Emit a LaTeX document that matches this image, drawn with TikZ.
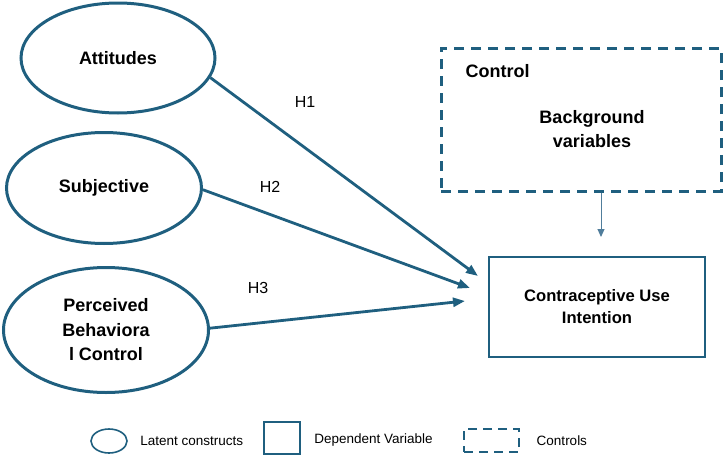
\documentclass[tikz,border=0pt]{standalone}
\usepackage{fontspec}
\setmainfont{Liberation Sans}
\usepackage{tikz}
\usetikzlibrary{shapes.geometric, arrows.meta, positioning, calc}

\definecolor{pathblue}{RGB}{31,95,127}
\definecolor{thinblue}{RGB}{80,125,155}

\begin{document}
\begin{tikzpicture}[
        x=1pt, y=-1pt,
        construct/.style={
            ellipse,
            draw=pathblue,
            line width=3pt,
            inner sep=0pt,
            align=center,
            font=\fontsize{18}{24.5}\selectfont\bfseries
        },
        depbox/.style={
            rectangle,
            draw=pathblue,
            line width=2.2pt,
            inner sep=0pt,
            align=center,
            font=\fontsize{16.6}{22}\selectfont\bfseries
        },
        ctrlbox/.style={
            rectangle,
            draw=pathblue,
            line width=3pt,
            dash pattern=on 10pt off 7pt,
            inner sep=0pt
        },
        boldtext/.style={
            align=center,
            font=\fontsize{18}{24}\selectfont\bfseries
        },
        hyplabel/.style={font=\fontsize{16}{19}\selectfont},
        legtext/.style={anchor=west, font=\fontsize{13.5}{16}\selectfont},
        hyparrow/.style={
            draw=pathblue,
            line width=2.8pt,
            -{Triangle[length=12pt,width=9pt]}
        }
    ]
    \useasboundingbox (0,0) rectangle (726,458);

    % Latent constructs
    \node[construct, minimum width=194pt, minimum height=110pt] (att) at (118,58) {Attitudes};
    \node[construct, minimum width=195pt, minimum height=111pt] (subj) at (104,188) {Subjective};
    \node[construct, minimum width=205pt, minimum height=125pt] (pbc) at (106,330)
        {Perceived\\Behaviora\\l Control};

    % Control box
    \node[ctrlbox, minimum width=280pt, minimum height=143pt] (ctrl) at (581,119.5) {};
    \node[boldtext, anchor=west] (ctrltitle) at (462,71) {Control};
    \node[boldtext] (background) at (592,129) {Background\\variables};

    % Dependent variable
    \node[depbox, minimum width=216pt, minimum height=100pt] (intent) at (597,307)
        {Contraceptive Use\\Intention};

    % Arrow tips stop short of the box
    \coordinate (tipa) at (478,276);
    \coordinate (tipb) at (470,288);
    \coordinate (tipc) at (465,301);
    \coordinate (ctrltip) at (601,237);

    \draw[hyparrow] (att.-12) -- (tipa);
    \draw[hyparrow] (subj.-1) -- (tipb);
    \draw[hyparrow] (pbc.1) -- (tipc);
    \draw[thinblue, line width=1pt, -{Triangle[length=8pt,width=7pt]}]
        (ctrl.south -| ctrltip) -- (ctrltip);

    % Hypothesis labels
    \node[hyplabel] (hone) at (305,102) {H1};
    \node[hyplabel] (htwo) at (270,187) {H2};
    \node[hyplabel] (hthree) at (258,288) {H3};

    % Legend
    \node[ellipse, draw=pathblue, line width=1.6pt, minimum width=36pt, minimum height=24pt,
        inner sep=0pt] (legell) at (109,441) {};
    \node[legtext, right=9pt of legell] (legelltext) {Latent constructs};
    \node[rectangle, draw=pathblue, line width=1.6pt, minimum width=36pt, minimum height=32pt,
        inner sep=0pt] (legbox) at (282,438) {};
    \node[legtext, right=10pt of legbox, yshift=-2pt] (legboxtext) {Dependent Variable};
    \node[ctrlbox, line width=2.4pt, dash pattern=on 9pt off 6pt, minimum width=55pt,
        minimum height=23pt] (legdash) at (491.5,440.5) {};
    \node[legtext, right=13pt of legdash] (legdashtext) {Controls};
\end{tikzpicture}
\end{document}
